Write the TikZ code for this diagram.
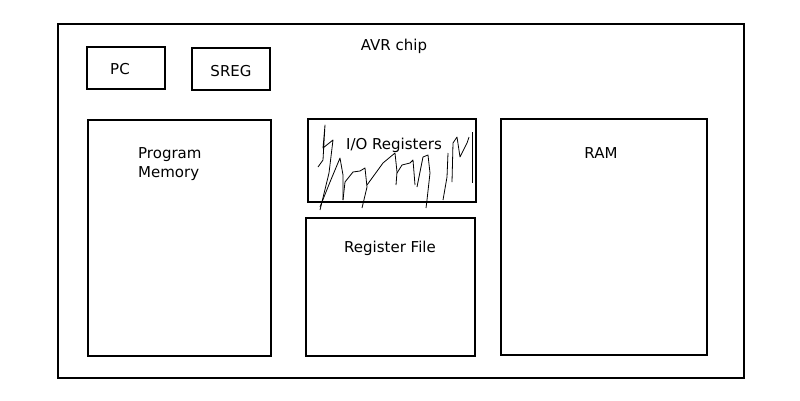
\documentclass[tikz,border=0pt]{standalone}
\usepackage{fontspec}
\setmainfont{DejaVu Sans}
\begin{document}
\begin{tikzpicture}[x=1pt,y=-1pt,
  box/.style={draw,line width=1.6pt},
  lbl/.style={font=\fontsize{15}{19}\selectfont,inner sep=0pt},
  scrib/.style={line width=0.8pt,line join=round}]
\useasboundingbox (0,0) rectangle (800,400);
\draw[box] (58,24) rectangle (744,378);
\node[lbl] (chip) at (394,46) {AVR chip};
\draw[box] (87,47) rectangle (165,89);
\node[lbl] (pc) at (120,69) {PC};
\draw[box] (192,48) rectangle (270,90);
\node[lbl] (sreg) at (231,71) {SREG};
\draw[box] (88,120) rectangle (271,356);
\node[lbl,align=left,anchor=north west] (pm) at (138,147) {Program\\Memory};
\draw[box] (308,119) rectangle (476,202);
\node[lbl] (io) at (394,145.5) {I/O Registers};
\draw[box] (306,218) rectangle (475,356);
\node[lbl] (rf) at (390,248.5) {Register File};
\draw[box] (501,119) rectangle (707,355);
\node[lbl] (ram) at (601,153.5) {RAM};
% scribbles
\draw[scrib] (318,167)--(323,160)--(325,125)--(323,148)--(333,140)--(329,173)--(320,210);
\draw[scrib] (320,207)--(330,182)--(340,158)--(343,175)--(343,200);
\draw[scrib] (343,200)--(345,182)--(353,172)--(360,171)--(365,168)--(367,187)--(362,208);
\draw[scrib] (367,185)--(383,163)--(395,153)--(397,172)--(396,185);
\draw[scrib] (397,173)--(402,165)--(410,163)--(413,160)--(415,185);
\draw[scrib] (417,187)--(423,157)--(428,155)--(430,173)--(427,200)--(426,208);
\draw[scrib] (443,200)--(447,177)--(448,153);
\draw[scrib] (452,182)--(453,143)--(457,137)--(460,157)--(467,143)--(469,137);
\draw[scrib] (472,132)--(472,183);
\end{tikzpicture}
\end{document}
